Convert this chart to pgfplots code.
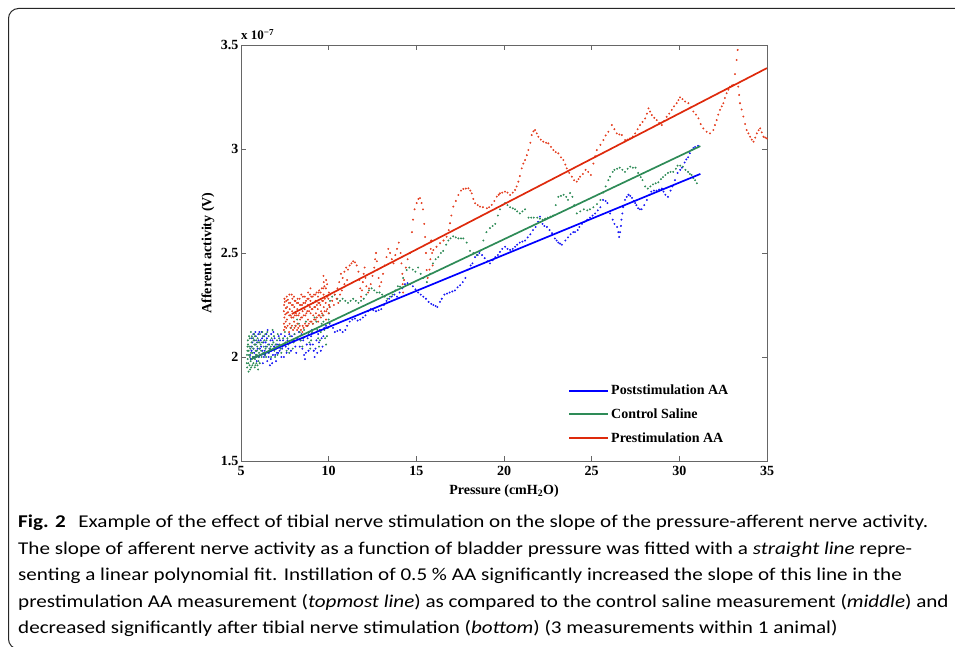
\documentclass[border=0pt]{standalone}
\usepackage{fontspec}
\setmainfont{Liberation Serif}
\newfontfamily\capfont{Carlito}
\usepackage{graphicx}
\usepackage{pgfplots}
\pgfplotsset{compat=1.18}
\definecolor{cred}{RGB}{228,62,32}
\definecolor{credl}{RGB}{222,42,12}
\definecolor{cgreen}{RGB}{46,139,87}
\definecolor{cblue}{RGB}{25,25,245}
\definecolor{cbluel}{RGB}{0,0,255}
\newsavebox\capbox
\begin{document}
\sbox\capbox{\capfont\fontsize{18}{20}\selectfont\textbf{Fig. 2}\hspace{0.6em}Example of the effect of tibial nerve stimulation on the slope of the pressure-afferent nerve activity.}%
\pgfmathsetmacro\capsc{910/\the\wd\capbox}%
\begin{tikzpicture}[x=1pt,y=1pt]
\useasboundingbox (0,0) rectangle (955,647);
\draw[line width=1pt, black!85, rounded corners=10pt] (980,638.5) -- (8.5,638.5) -- (8.5,-2) -- (980,-2);
\begin{axis}[
  at={(241pt,186pt)}, anchor=south west,
  scale only axis, width=526pt, height=416pt,
  clip mode=individual,
  xmin=5, xmax=35, ymin=1.5, ymax=3.5,
  xtick={5,10,15,20,25,30,35}, ytick={1.5,2,2.5,3,3.5},
  tick align=inside, major tick length=5pt,
  xtick pos=both, ytick pos=both,
  axis line style={black!60, line width=0.8pt},
  every tick/.style={black!60, line width=0.6pt},
  tick label style={font=\bfseries\fontsize{14}{16}\selectfont, text=black},
  /pgf/number format/assume math mode=true,
  xticklabel style={yshift=-2pt},
  yticklabel style={xshift=1pt},
  xlabel={Pressure (cmH\textsubscript{2}O)},
  ylabel={Afferent activity (V)},
  label style={font=\bfseries\fontsize{14}{16}\selectfont},
  xlabel style={at={(axis description cs:0.5,-0.072)}, anchor=center},
  ylabel style={at={(axis description cs:-0.0627,0.5)}, anchor=center},
  legend style={at={(rel axis cs:0.616,0.193)}, anchor=north west, draw=none, fill=none,
    font=\bfseries\fontsize{14}{16}\selectfont, row sep=8.7pt, cells={anchor=west}},
  legend entries={Poststimulation AA, Control Saline, Prestimulation AA},
]
\addlegendimage{cbluel, legend image code/.code={\draw[cbluel, line width=2pt] (0pt,0pt) -- (39pt,0pt);}}
\addlegendimage{cgreen, legend image code/.code={\draw[cgreen, line width=2pt] (0pt,0pt) -- (39pt,0pt);}}
\addlegendimage{credl, legend image code/.code={\draw[credl, line width=2pt] (0pt,0pt) -- (39pt,0pt);}}
% ---------- Poststimulation AA (blue) scatter
\addplot[only marks, mark=*, mark size=0.75pt, color=cblue, forget plot] coordinates {
(5.55,1.99)(5.6,2.03)(5.65,2.07)(5.7,2.11)(5.75,2.02)(5.8,2.06)(5.85,2.1)(5.9,1.98)(5.95,2.04)(6.0,2.08)
(6.05,2.12)(6.1,2.01)(6.15,2.05)(6.2,2.09)(6.25,1.97)(6.3,2.0)(6.35,2.03)(6.4,2.07)(6.45,2.11)(6.5,1.98)
(6.55,2.02)(6.6,2.06)(6.65,1.96)(6.7,1.99)(6.75,2.03)(6.8,2.08)(6.85,2.12)(6.9,2.05)(6.95,2.01)(7.0,1.98)
(7.05,2.02)(7.1,2.06)(7.15,2.1)(7.2,2.03)(7.3,2.0)(7.35,2.04)(7.4,2.08)(7.5,2.1)(7.55,2.05)(7.6,2.02)
(7.7,2.04)(7.8,2.07)(7.9,2.1)(8.0,2.08)(8.1,2.05)(8.2,2.09)(8.3,2.12)(8.4,2.08)(8.5,2.04)(8.6,2.01)
(8.65,1.99)(8.7,2.02)(8.75,2.06)(8.8,2.09)(8.9,2.12)(9.0,2.1)(9.1,2.06)(9.15,2.03)(9.2,2.0)(9.25,2.04)
(9.3,2.08)(9.4,2.11)(9.5,2.13)(9.6,2.09)(9.65,2.05)(9.7,2.1)(9.75,2.14)(9.85,2.15)(9.95,2.14)(10.05,2.16)
(5.52,2.01)(5.58,2.05)(5.62,2.09)(5.68,2.0)(5.72,2.04)(5.78,2.08)(5.82,2.12)(5.88,2.03)(5.92,2.07)(5.98,2.11)
(6.02,2.0)(6.08,2.04)(6.12,2.08)(6.18,2.12)(6.22,2.03)(6.28,2.07)(6.32,2.1)(6.38,2.01)(6.42,2.05)(6.48,2.09)
(6.52,2.13)(6.58,2.0)(6.62,2.04)(6.68,2.08)(6.72,2.11)(6.78,1.97)(6.82,2.01)(6.88,2.05)(6.92,2.09)(7.02,2.06)
(7.12,2.02)(7.22,2.08)(7.28,2.11)(7.45,2.0)(7.65,2.08)(7.75,2.11)(7.85,2.03)(8.05,2.11)(8.15,2.02)(8.35,2.05)
(8.45,2.11)(8.55,2.08)(8.85,2.03)(8.95,2.06)(9.05,2.13)(9.35,2.02)(9.45,2.07)(9.55,2.03)
(10.15,2.15)(10.25,2.14)(10.35,2.12)(10.5,2.125)(10.65,2.13)(10.8,2.12)(10.95,2.13)(11.05,2.15)(11.2,2.17)
(11.35,2.18)(11.5,2.185)(11.65,2.175)(11.8,2.18)(11.95,2.19)(12.1,2.2)(12.25,2.22)(12.4,2.23)(12.55,2.225)
(12.7,2.22)(12.85,2.225)(13.0,2.23)(13.15,2.25)(13.3,2.27)(13.45,2.28)(13.6,2.29)(13.75,2.3)(13.9,2.29)
(14.05,2.31)(14.2,2.33)(14.35,2.35)(14.5,2.355)(14.65,2.35)(14.8,2.34)(14.95,2.325)(15.1,2.31)(15.25,2.3)
(15.4,2.29)(15.55,2.28)(15.7,2.265)(15.85,2.255)(15.97,2.25)(16.1,2.245)(16.2,2.24)(16.35,2.265)(16.45,2.28)
(16.6,2.3)(16.75,2.305)(16.9,2.31)(17.05,2.315)(17.2,2.32)(17.35,2.335)(17.5,2.345)(17.65,2.36)(17.8,2.38)
(17.95,2.42)(18.1,2.44)(18.2,2.45)(18.35,2.48)(18.5,2.49)(18.6,2.5)(18.75,2.49)(18.9,2.475)(19.05,2.46)
(19.2,2.45)(19.35,2.465)(19.5,2.48)(19.65,2.49)(19.77,2.505)(19.9,2.52)(20.06,2.53)(20.2,2.52)(20.35,2.515)
(20.5,2.52)(20.63,2.53)(20.75,2.54)(20.9,2.55)(21.05,2.555)(21.2,2.56)(21.35,2.575)(21.5,2.59)(21.65,2.61)
(21.8,2.625)(21.95,2.65)(22.05,2.675)(22.2,2.64)(22.3,2.63)(22.45,2.625)(22.6,2.61)(22.74,2.595)(22.9,2.57)
(23.0,2.56)(23.1,2.55)(23.2,2.545)(23.3,2.54)(23.5,2.56)(23.65,2.575)(23.8,2.59)(23.95,2.6)(24.05,2.6)
(24.2,2.61)(24.3,2.625)(24.45,2.64)(24.6,2.65)(24.75,2.66)(24.9,2.67)(25.05,2.68)(25.2,2.69)(25.35,2.705)
(25.5,2.72)(25.65,2.755)(25.8,2.75)(25.9,2.74)(26.05,2.69)(26.2,2.66)(26.3,2.64)(26.45,2.625)(26.52,2.6)
(26.57,2.577)(26.62,2.6)(26.67,2.63)(26.7,2.66)(26.75,2.69)(26.8,2.72)(26.9,2.755)(27.0,2.77)(27.1,2.78)
(27.2,2.775)(27.3,2.765)(27.4,2.75)(27.48,2.74)(27.55,2.73)(27.65,2.715)(27.75,2.71)(27.85,2.71)(28.0,2.73)
(28.15,2.755)(28.3,2.78)(28.4,2.795)(28.55,2.8)(28.7,2.8)(28.85,2.805)(29.0,2.81)(29.1,2.795)(29.2,2.78)
(29.35,2.77)(29.5,2.8)(29.6,2.82)(29.75,2.85)(29.9,2.885)(30.05,2.9)(30.15,2.91)(30.3,2.935)(30.4,2.95)
(30.5,2.96)(30.6,2.98)(30.7,2.995)(30.8,3.005)(30.9,3.01)(31.07,3.015)
};
% ---------- Control Saline (green) scatter
\addplot[only marks, mark=*, mark size=0.75pt, color=cgreen, forget plot] coordinates {
(5.35,1.95)(5.38,1.99)(5.36,2.03)(5.4,2.06)(5.42,1.97)(5.45,2.01)(5.47,2.05)(5.5,2.09)(5.52,1.94)(5.55,1.98)
(5.57,2.02)(5.6,2.07)(5.62,2.1)(5.65,1.96)(5.68,2.0)(5.7,2.04)(5.72,2.08)(5.75,2.11)(5.78,1.95)(5.8,1.99)
(5.83,2.03)(5.85,2.06)(5.88,1.97)(5.9,2.01)(5.93,2.05)(5.95,2.09)(5.98,1.94)(6.0,1.98)(6.03,2.02)(6.05,2.07)
(5.33,1.97)(5.34,2.01)(5.37,2.05)(5.39,2.08)(5.43,1.93)(5.44,2.03)(5.46,2.1)(5.49,1.96)(5.51,2.0)(5.53,2.04)
(5.56,2.12)(5.58,1.95)(5.61,1.99)(5.63,2.05)(5.66,2.02)(5.69,2.09)(5.71,1.97)(5.74,2.0)(5.76,2.06)(5.79,2.1)
(5.82,1.96)(5.84,2.01)(5.87,2.08)(5.91,2.03)(5.94,1.96)(5.97,2.07)(6.01,2.0)(6.04,2.04)(6.07,1.97)(6.12,2.06)
(6.18,2.0)(6.22,2.12)(6.28,2.02)(6.33,2.08)(6.38,2.11)(6.43,2.0)(6.48,2.05)(6.58,2.1)(6.65,2.04)(6.72,2.0)
(6.78,2.06)(6.88,2.1)(6.98,2.06)(7.08,2.01)(7.18,2.09)(7.25,2.04)(7.45,2.06)(7.65,2.09)(7.75,2.02)
(6.08,2.11)(6.15,2.03)(6.2,2.07)(6.25,2.1)(6.3,2.05)(6.35,2.01)(6.4,2.04)(6.45,2.08)(6.5,2.12)(6.55,2.06)
(6.6,2.02)(6.7,2.05)(6.75,2.09)(6.8,2.13)(6.85,2.07)(6.9,2.03)(6.95,2.0)(7.0,2.04)(7.05,2.08)(7.1,2.11)
(7.2,2.06)(7.3,2.02)(7.35,2.05)(7.4,2.09)(7.5,2.12)(7.55,2.07)(7.6,2.03)(7.7,2.06)(7.8,2.1)(7.85,2.14)
(7.9,2.08)(7.95,2.04)(8.0,2.07)(8.05,2.11)(8.1,2.15)(8.2,2.18)(8.3,2.16)(8.35,2.12)(8.4,2.08)(8.5,2.05)
(8.55,2.09)(8.6,2.13)(8.7,2.17)(8.8,2.15)(8.85,2.11)(8.9,2.07)(8.95,2.04)(9.0,2.08)(9.05,2.12)(9.1,2.16)
(9.2,2.19)(9.3,2.17)(9.35,2.13)(9.4,2.09)(9.45,2.05)(9.5,2.08)(9.55,2.12)(9.6,2.16)(9.65,2.2)(9.7,2.17)
(9.75,2.13)(9.8,2.09)(9.85,2.06)(9.9,2.1)(9.95,2.14)(10.0,2.18)(10.02,2.21)(10.05,2.24)(10.08,2.27)
(10.2,2.29)(10.35,2.3)(10.5,2.28)(10.65,2.27)(10.8,2.28)(10.95,2.27)(11.1,2.26)(11.25,2.27)(11.4,2.28)
(11.55,2.27)(11.7,2.26)(11.85,2.27)(12.0,2.28)(12.15,2.3)(12.3,2.32)(12.45,2.33)(12.6,2.32)(12.75,2.31)
(12.9,2.31)(13.05,2.3)(13.2,2.29)(13.35,2.28)(13.5,2.29)(13.65,2.3)(13.8,2.32)(13.95,2.34)(14.07,2.338)
(14.25,2.38)(14.45,2.418)(14.6,2.43)(14.8,2.42)(14.95,2.41)(15.1,2.43)(15.25,2.4)(15.4,2.38)(15.6,2.36)
(15.8,2.4)(15.95,2.45)(16.1,2.47)(16.25,2.48)(16.4,2.5)(16.53,2.51)(16.7,2.54)(16.83,2.56)(16.95,2.57)
(17.1,2.58)(17.25,2.575)(17.4,2.57)(17.55,2.57)(17.68,2.57)(17.87,2.55)(18.06,2.51)(18.25,2.5)(18.44,2.49)
(18.63,2.51)(18.82,2.56)(19.0,2.6)(19.2,2.62)(19.35,2.63)(19.5,2.64)(19.65,2.68)(19.77,2.71)(19.9,2.73)
(20.06,2.74)(20.2,2.73)(20.35,2.72)(20.5,2.715)(20.63,2.71)(20.75,2.7)(20.9,2.69)(21.05,2.7)(21.2,2.71)
(21.4,2.67)(21.55,2.67)(21.7,2.67)(21.9,2.67)(22.05,2.665)(22.2,2.66)(22.35,2.665)(22.5,2.67)(22.65,2.675)
(22.8,2.68)(22.95,2.73)(23.1,2.77)(23.25,2.775)(23.4,2.78)(23.55,2.77)(23.65,2.755)(23.77,2.788)(23.9,2.77)
(24.0,2.73)(24.15,2.69)(24.35,2.7)(24.55,2.71)(24.75,2.705)(24.9,2.71)(25.1,2.72)(25.3,2.735)(25.5,2.755)
(25.65,2.79)(25.8,2.82)(25.95,2.85)(26.05,2.867)(26.2,2.89)(26.3,2.9)(26.45,2.905)(26.6,2.91)(26.75,2.9)
(26.9,2.89)(27.05,2.905)(27.2,2.915)(27.35,2.91)(27.5,2.91)(27.65,2.885)(27.8,2.865)(27.9,2.85)(28.05,2.82)
(28.2,2.81)(28.35,2.82)(28.5,2.83)(28.65,2.835)(28.8,2.84)(28.95,2.855)(29.07,2.865)(29.2,2.875)(29.35,2.885)
(29.5,2.89)(29.65,2.89)(29.8,2.905)(29.9,2.92)(30.05,2.92)(30.2,2.915)(30.35,2.9)(30.5,2.89)(30.6,2.88)
(30.7,2.875)(30.8,2.86)(30.9,2.85)(31.0,2.835)
};
% ---------- Prestimulation AA (red) scatter
\addplot[only marks, mark=*, mark size=0.75pt, color=cred, forget plot] coordinates {
(7.45,2.13)(7.45,2.16)(7.47,2.19)(7.44,2.22)(7.46,2.25)(7.48,2.28)
(7.58,2.14)(7.62,2.18)(7.6,2.21)(7.63,2.24)(7.59,2.27)(7.61,2.29)
(7.74,2.12)(7.77,2.16)(7.75,2.2)(7.78,2.23)(7.73,2.26)(7.76,2.3)
(7.9,2.15)(7.88,2.19)(7.92,2.22)(7.9,2.25)(7.93,2.28)(7.89,2.3)
(8.05,2.14)(8.03,2.17)(8.07,2.2)(8.04,2.24)(8.06,2.27)(8.02,2.29)
(8.2,2.13)(8.22,2.16)(8.18,2.2)(8.21,2.23)(8.19,2.26)(8.23,2.28)
(8.35,2.15)(8.37,2.18)(8.33,2.21)(8.36,2.25)(8.34,2.28)
(8.5,2.12)(8.52,2.15)(8.48,2.19)(8.51,2.22)(8.49,2.25)(8.53,2.29)
(8.65,2.16)(8.67,2.2)(8.63,2.23)(8.66,2.26)(8.64,2.29)
(8.8,2.15)(8.82,2.18)(8.78,2.22)(8.81,2.25)(8.79,2.28)(8.83,2.31)
(8.95,2.17)(8.97,2.21)(8.93,2.24)(8.96,2.27)(8.94,2.3)(8.96,2.33)
(9.1,2.16)(9.12,2.2)(9.08,2.23)(9.11,2.26)(9.09,2.29)
(9.25,2.18)(9.27,2.21)(9.23,2.24)(9.26,2.27)(9.24,2.3)
(9.4,2.17)(9.42,2.2)(9.38,2.23)(9.41,2.26)(9.39,2.29)(9.43,2.31)
(9.55,2.19)(9.57,2.22)(9.53,2.25)(9.56,2.28)(9.54,2.31)
(9.7,2.2)(9.72,2.24)(9.68,2.27)(9.71,2.3)(9.69,2.33)(9.72,2.36)(9.7,2.39)
(9.85,2.18)(9.87,2.22)(9.83,2.26)(9.86,2.29)(9.84,2.33)(9.86,2.37)
(10.0,2.21)(10.02,2.25)(9.98,2.28)(10.01,2.31)
(7.5,2.145)(7.52,2.205)(7.5,2.265)(7.55,2.17)(7.56,2.235)(7.66,2.15)(7.68,2.215)(7.67,2.275)(7.82,2.14)(7.83,2.2)
(7.81,2.26)(7.97,2.13)(7.98,2.19)(7.96,2.25)(8.12,2.15)(8.13,2.21)(8.11,2.27)(8.27,2.14)(8.28,2.2)(8.26,2.26)
(8.42,2.13)(8.43,2.19)(8.41,2.25)(8.44,2.3)(8.57,2.14)(8.58,2.2)(8.56,2.26)(8.72,2.15)(8.73,2.21)(8.71,2.27)
(8.87,2.16)(8.88,2.22)(8.86,2.28)(9.02,2.17)(9.03,2.23)(9.01,2.29)(9.17,2.18)(9.18,2.24)(9.16,2.3)(9.32,2.19)
(9.33,2.25)(9.31,2.31)(9.47,2.2)(9.48,2.26)(9.46,2.32)(9.62,2.21)(9.63,2.27)(9.61,2.33)(9.77,2.22)(9.78,2.28)
(9.76,2.34)(9.92,2.23)(9.93,2.29)(9.91,2.35)(10.06,2.24)(10.08,2.3)
(10.2,2.27)(10.3,2.25)(10.35,2.3)(10.45,2.28)(10.5,2.33)(10.55,2.26)(10.6,2.36)(10.65,2.3)(10.7,2.4)
(10.75,2.32)(10.8,2.38)(10.9,2.41)(10.9,2.35)(11.0,2.43)(11.05,2.37)(11.1,2.42)(11.2,2.44)(11.3,2.45)
(11.4,2.46)(11.5,2.455)(11.6,2.44)(11.7,2.41)(11.75,2.37)(11.8,2.33)(11.85,2.29)(11.9,2.32)(11.95,2.36)
(12.0,2.4)(12.05,2.43)(12.1,2.38)(12.15,2.34)(12.25,2.31)(12.3,2.33)(12.4,2.35)(12.5,2.39)(12.6,2.43)
(12.65,2.47)(12.7,2.5)(12.75,2.46)(12.8,2.42)(12.85,2.38)(12.9,2.34)(13.0,2.36)(13.1,2.4)(13.2,2.44)
(13.3,2.48)(13.4,2.52)(13.5,2.5)(13.6,2.47)(13.7,2.45)(13.8,2.49)(13.9,2.52)(14.0,2.55)(14.1,2.5)
(14.15,2.45)(14.2,2.4)(14.22,2.35)(14.25,2.31)(14.3,2.37)(14.4,2.43)(14.5,2.47)(14.64,2.5)(14.75,2.6)
(14.81,2.66)(14.9,2.71)(15.02,2.74)(15.12,2.76)(15.21,2.764)(15.3,2.74)(15.38,2.71)(15.45,2.64)(15.5,2.577)
(15.55,2.5)(15.59,2.418)(15.65,2.38)(15.75,2.42)(15.8,2.47)(15.82,2.52)(15.85,2.56)(15.9,2.5)(15.93,2.44)
(15.97,2.514)(16.15,2.53)(16.35,2.547)(16.55,2.56)(16.73,2.578)(16.85,2.61)(16.92,2.643)(17.0,2.68)
(17.11,2.723)(17.25,2.75)(17.4,2.779)(17.55,2.8)(17.68,2.808)(17.82,2.81)(17.97,2.811)(18.08,2.8)
(18.16,2.787)(18.25,2.76)(18.35,2.739)(18.5,2.73)(18.63,2.723)(18.8,2.72)(19.02,2.715)(19.15,2.72)
(19.3,2.731)(19.45,2.75)(19.59,2.771)(19.7,2.78)(19.77,2.787)(19.9,2.79)(20.06,2.795)(20.2,2.79)
(20.35,2.779)(20.5,2.79)(20.63,2.803)(20.72,2.82)(20.82,2.843)(20.9,2.87)(21.01,2.907)(21.1,2.93)
(21.2,2.947)(21.3,2.97)(21.39,2.995)(21.5,3.03)(21.58,3.067)(21.68,3.085)(21.77,3.091)(21.87,3.075)
(21.96,3.059)(22.1,3.045)(22.24,3.035)(22.4,3.03)(22.53,3.027)(22.68,3.01)(22.82,2.995)(22.95,2.985)
(23.1,2.979)(23.25,2.96)(23.39,2.947)(23.5,2.925)(23.58,2.907)(23.72,2.885)(23.87,2.867)(24.0,2.85)
(24.15,2.843)(24.25,2.855)(24.34,2.867)(24.5,2.88)(24.65,2.9)(24.8,2.89)(24.95,2.875)(25.1,2.93)
(25.2,2.965)(25.29,2.995)(25.5,3.02)(25.67,3.043)(25.8,3.065)(25.95,3.083)(26.15,3.115)(26.3,3.095)
(26.43,3.075)(26.58,3.07)(26.72,3.067)(26.91,3.043)(27.05,3.045)(27.19,3.051)(27.35,3.06)(27.48,3.075)
(27.62,3.095)(27.76,3.115)(27.9,3.13)(28.05,3.147)(28.15,3.17)(28.24,3.195)(28.33,3.18)(28.43,3.163)
(28.57,3.15)(28.71,3.139)(28.85,3.125)(29.0,3.115)(29.14,3.135)(29.28,3.155)(29.42,3.17)(29.57,3.188)
(29.7,3.205)(29.85,3.22)(29.95,3.235)(30.04,3.248)(30.18,3.24)(30.33,3.228)(30.52,3.22)(30.66,3.2)
(30.8,3.18)(30.95,3.165)(31.09,3.147)(31.22,3.12)(31.37,3.099)(31.56,3.083)(31.75,3.075)(31.94,3.091)
(32.03,3.115)(32.13,3.139)(32.22,3.165)(32.32,3.188)(32.42,3.205)(32.51,3.22)(32.6,3.245)(32.7,3.268)
(32.8,3.285)(32.89,3.3)(33.0,3.305)(33.08,3.308)(33.17,3.36)(33.27,3.428)(33.33,3.476)(33.36,3.3)
(33.41,3.26)(33.46,3.22)(33.55,3.19)(33.65,3.156)(33.75,3.12)(33.84,3.091)(33.94,3.075)(34.04,3.059)
(34.13,3.045)(34.23,3.035)(34.33,3.055)(34.42,3.075)(34.52,3.09)(34.61,3.099)(34.7,3.08)(34.8,3.059)
(34.9,3.055)(34.99,3.051)
};
% ---------- linear fits
\addplot[cbluel, line width=1.7pt, forget plot] coordinates {(5.7,1.995)(31.2,2.88)};
\addplot[cgreen, line width=1.7pt, forget plot] coordinates {(5.6,1.99)(31.2,3.014)};
\addplot[credl, line width=1.7pt, forget plot] coordinates {(7.9,2.207)(35,3.389)};
\node[anchor=base west, inner sep=0pt, font=\bfseries\fontsize{13}{15}\selectfont] at (rel axis cs:0,1) [yshift=5pt] {x 10\textsuperscript{−7}};
\end{axis}
\begin{scope}[every node/.style={anchor=base west, inner sep=0pt}]
\node at (18,119) {\scalebox{\capsc}[1]{\capfont\fontsize{18}{20}\selectfont\textbf{Fig. 2}\hspace{0.6em}Example of the effect of tibial nerve stimulation on the slope of the pressure-afferent nerve activity.}};
\node at (18,92) {\scalebox{\capsc}[1]{\capfont\fontsize{18}{20}\selectfont The slope of afferent nerve activity as a function of bladder pressure was fitted with a \textit{straight line} repre-}};
\node at (18,66) {\scalebox{\capsc}[1]{\capfont\fontsize{18}{20}\selectfont senting a linear polynomial fit. Instillation of 0.5~\% AA significantly increased the slope of this line in the}};
\node at (18,39) {\scalebox{\capsc}[1]{\capfont\fontsize{18}{20}\selectfont prestimulation AA measurement (\textit{topmost line}) as compared to the control saline measurement (\textit{middle}) and}};
\node at (18,13) {\scalebox{\capsc}[1]{\capfont\fontsize{18}{20}\selectfont decreased significantly after tibial nerve stimulation (\textit{bottom}) (3 measurements within 1 animal)}};
\end{scope}
\end{tikzpicture}
\end{document}
